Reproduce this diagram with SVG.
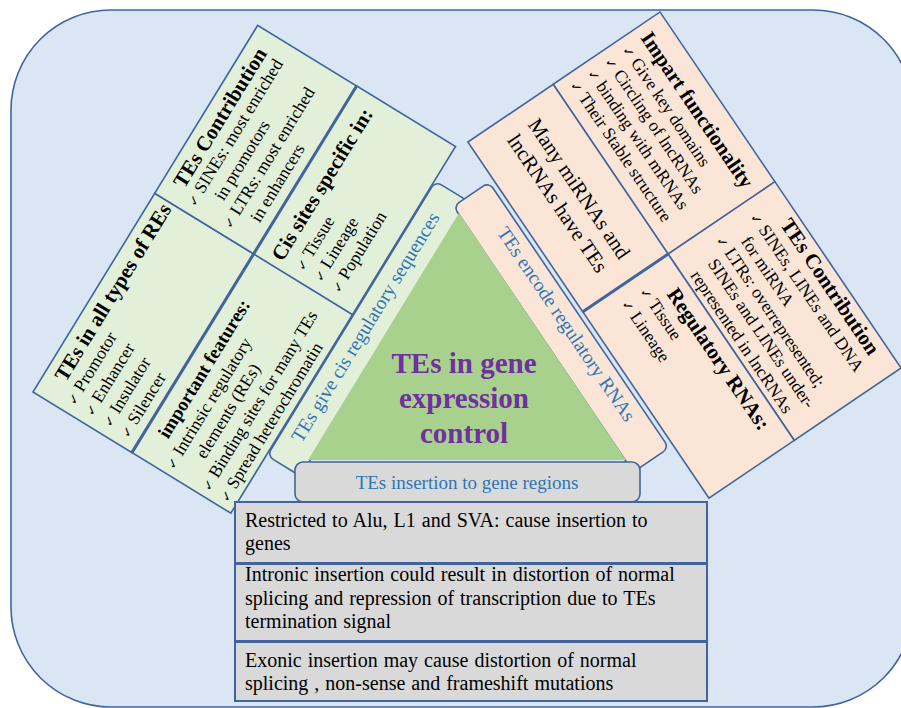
<svg xmlns="http://www.w3.org/2000/svg" width="901" height="708" viewBox="0 0 901 708">
<style>
.bg{fill:#dae6f4;stroke:#41649e;stroke-width:1.6}
.gb{fill:#e2efd9;stroke:#41649e;stroke-width:1.6}
.pb{fill:#fbe5d6;stroke:#41649e;stroke-width:1.6}
.gr{fill:#d9d9d9;stroke:#41649e;stroke-width:2}
.thick{stroke:#41649e;stroke-width:3}
text{font-family:"Liberation Serif","DejaVu Serif",serif;fill:#000}
.t{font-size:21px;font-weight:bold}
.t2{font-size:19px;font-weight:bold}
.i{font-size:17.5px}
.m{font-size:21px}
.ck{font-family:"DejaVu Sans",sans-serif;font-size:13px}
.bl{fill:#2e75b6;font-size:19.5px}
.ctr{fill:#7030a0;font-size:29px;font-weight:bold}
.bt{font-size:20px;word-spacing:1px}
</style>
<rect class="bg" x="11" y="10" width="902" height="697" rx="100"/>

<g id="green-panels" transform="translate(33,392) rotate(-58.5)">
  <g id="node-all-types">
    <rect class="gb" x="0" y="0" width="233" height="116"/>
    <text class="t" x="25" y="23">TEs in all types of REs</text>
    <text class="i" x="10" y="43"><tspan class="ck">✓</tspan> Promotor</text>
    <text class="i" x="10" y="64"><tspan class="ck">✓</tspan> Enhancer</text>
    <text class="i" x="10" y="85"><tspan class="ck">✓</tspan> Insulator</text>
    <text class="i" x="10" y="106"><tspan class="ck">✓</tspan> Silencer</text>
  </g>
  <g id="node-tes-contribution-cis">
    <rect class="gb" x="233" y="0" width="197" height="116"/>
    <text class="t" x="252" y="23">TEs Contribution</text>
    <text class="i" x="242" y="42"><tspan class="ck">✓</tspan> SINEs: most enriched</text>
    <text class="i" x="262" y="63">in promotors</text>
    <text class="i" x="242" y="84"><tspan class="ck">✓</tspan> LTRs: most enriched</text>
    <text class="i" x="262" y="105">in enhancers</text>
  </g>
  <g id="node-important-features">
    <rect class="gb" x="0" y="116" width="233" height="116"/>
    <text class="t2" x="30" y="140">important features:</text>
    <text class="i" x="7" y="161"><tspan class="ck">✓</tspan> Intrinsic regulatory</text>
    <text class="i" x="32" y="182">elements (REs)</text>
    <text class="i" x="7" y="203"><tspan class="ck">✓</tspan> Binding sites for many TEs</text>
    <text class="i" x="7" y="224"><tspan class="ck">✓</tspan> Spread heterochromatin</text>
  </g>
  <g id="node-cis-sites">
    <rect class="gb" x="233" y="116" width="197" height="116"/>
    <text class="t" x="241" y="145">Cis sites specific in:</text>
    <text class="i" x="244" y="168"><tspan class="ck">✓</tspan> Tissue</text>
    <text class="i" x="244" y="189"><tspan class="ck">✓</tspan> Lineage</text>
    <text class="i" x="244" y="210"><tspan class="ck">✓</tspan> Population</text>
  </g>
  <line class="thick" x1="0" y1="116" x2="430" y2="116"/>
  <g id="node-cis-strip">
    <rect class="gb" x="68" y="233" width="322" height="39" rx="7"/>
    <text class="bl" x="229" y="256" text-anchor="middle">TEs give cis regulatory sequences</text>
  </g>
</g>

<g id="pink-panels" transform="translate(660,12) rotate(55.9)">
  <g id="node-impart">
    <rect class="pb" x="0" y="0" width="205" height="129"/>
    <text class="t" x="10" y="31">Impart functionality</text>
    <text class="i" x="10" y="53"><tspan class="ck">✓</tspan> Give key domains</text>
    <text class="i" x="10" y="74"><tspan class="ck">✓</tspan> Circling of lncRNAs</text>
    <text class="i" x="10" y="95"><tspan class="ck">✓</tspan> binding with mRNAs</text>
    <text class="i" x="10" y="116"><tspan class="ck">✓</tspan> Their Stable structure</text>
  </g>
  <g id="node-tes-contribution-rna">
    <rect class="pb" x="205" y="0" width="225" height="129"/>
    <text class="t" x="243" y="20">TEs Contribution</text>
    <text class="i" x="220" y="41"><tspan class="ck">✓</tspan> SINEs, LINEs and DNA</text>
    <text class="i" x="235" y="62">for miRNA</text>
    <text class="i" x="220" y="82"><tspan class="ck">✓</tspan> LTRs: overrepresented;</text>
    <text class="i" x="235" y="102">SINEs and LINEs under-</text>
    <text class="i" x="235" y="123">represented in lncRNAs</text>
  </g>
  <g id="node-many-mirnas">
    <rect class="pb" x="0" y="129" width="205" height="103"/>
    <text class="m" x="101" y="173" text-anchor="middle">Many miRNAs and</text>
    <text class="m" x="101" y="199" text-anchor="middle">lncRNAs have TEs</text>
  </g>
  <g id="node-regulatory-rnas">
    <rect class="pb" x="205" y="129" width="225" height="103"/>
    <text class="t" x="237" y="153">Regulatory RNAs:</text>
    <text class="i" x="220" y="174"><tspan class="ck">✓</tspan> Tissue</text>
    <text class="i" x="220" y="196"><tspan class="ck">✓</tspan> Lineage</text>
  </g>
  <line class="thick" x1="205" y1="129" x2="205" y2="232"/>
  <g id="node-rna-strip">
    <rect class="pb" x="45" y="237" width="321" height="43" rx="7"/>
    <text class="bl" x="206" y="259" text-anchor="middle">TEs encode regulatory RNAs</text>
  </g>
</g>

<g id="node-center">
  <polygon points="459,213 308,460 626,460" fill="#a9d18e"/>
  <text class="ctr" x="464" y="373" text-anchor="middle">TEs in gene</text>
  <text class="ctr" x="464" y="408" text-anchor="middle">expression</text>
  <text class="ctr" x="464" y="443" text-anchor="middle">control</text>
</g>

<g id="node-insertion-strip">
  <rect class="gr" x="295" y="462" width="345" height="40" rx="8" style="stroke-width:1.6"/>
  <text class="bl" x="467" y="489" text-anchor="middle" style="font-size:19px">TEs insertion to gene regions</text>
</g>

<g id="node-restricted">
  <rect class="gr" x="235" y="502" width="472" height="61"/>
  <text class="bt" x="245" y="527">Restricted to Alu, L1 and SVA: cause insertion to</text>
  <text class="bt" x="245" y="550">genes</text>
</g>
<g id="node-intronic">
  <rect class="gr" x="235" y="564" width="472" height="77"/>
  <text class="bt" x="245" y="581">Intronic insertion could result in distortion of normal</text>
  <text class="bt" x="245" y="605">splicing and repression of transcription due to TEs</text>
  <text class="bt" x="245" y="628">termination signal</text>
</g>
<g id="node-exonic">
  <rect class="gr" x="235" y="642" width="472" height="59"/>
  <text class="bt" x="245" y="667">Exonic insertion may cause distortion of normal</text>
  <text class="bt" x="245" y="690">splicing , non-sense and frameshift mutations</text>
</g>
</svg>
